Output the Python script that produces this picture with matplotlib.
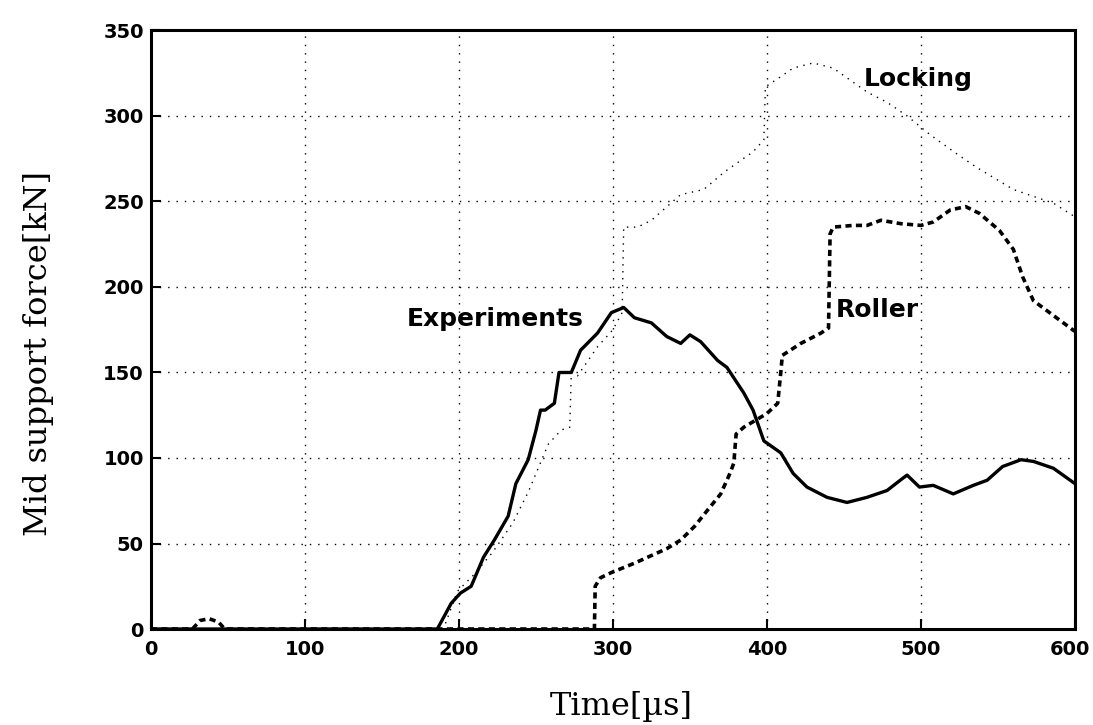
import matplotlib.pyplot as plt
import matplotlib.transforms as mtransforms
import numpy as np

# Experiments (solid)
exp_t = [0, 186, 195, 201, 208, 216, 223, 232, 237, 245, 250, 253, 256, 262, 265, 273, 279,
         290, 299, 307, 314, 325, 335, 344, 350, 357, 368, 374, 385, 391, 398, 409, 417,
         426, 439, 452, 465, 478, 488, 491, 499, 508, 521, 534, 543, 553, 565, 573, 586, 600]
exp_f = [0, 0, 15, 21, 25, 42, 52, 66, 85, 99, 116, 128, 128, 132, 150, 150, 163,
         173, 185, 188, 182, 179, 171, 167, 172, 168, 157, 153, 138, 128, 110, 103, 91,
         83, 77, 74, 77, 81, 88, 90, 83, 84, 79, 84, 87, 95, 99, 98, 94, 85]

# Roller (dashed)
rol_t = [0, 27, 32, 38, 44, 48, 288, 288.5, 292, 299, 314, 335, 344, 353, 361, 370, 376,
         378.5, 380, 385, 400, 407, 409, 410, 422, 435, 440, 441, 443, 456, 465, 474,
         487, 500, 508, 519, 529, 538, 551, 560, 566, 573, 582, 600]
rol_f = [0, 0, 5, 6, 4, 0, 0, 25, 30, 33, 38.5, 47, 52, 60, 69, 79, 91,
         97, 114, 118, 126, 132, 150, 160, 167, 173, 176, 231, 235, 236, 236, 239,
         237, 236, 238, 245, 247, 243, 233, 222, 206, 192, 186, 174]

# Locking (dotted)
lock_t = [0, 190, 199, 210, 222, 235, 245, 258, 264, 268, 272, 273, 277, 290, 300, 306, 307,
          316, 325, 344, 359, 372, 383, 391, 398, 399, 409, 417, 430, 443, 454, 465,
          478, 491, 506, 523, 536, 560, 573, 586, 600]
lock_f = [0, 0, 22, 32, 45, 62, 80, 108, 114, 117, 118, 150, 148, 165, 175, 185, 235,
          235, 239, 254, 257, 267, 274, 279, 286, 317, 323, 328, 331, 328, 321, 314,
          308, 300, 289, 278, 270, 257, 253, 249, 241]

x_ticks = [0, 100, 200, 300, 400, 500, 600]
y_ticks = [0, 50, 100, 150, 200, 250, 300, 350]

fig = plt.figure(figsize=(10.93, 7.25), dpi=100)
ax = fig.add_axes([0.138, 0.1324, 0.8455, 0.8256])

ax.plot(lock_t, lock_f, color='black', lw=1.0, linestyle=(0, (1, 4)))
ax.plot(rol_t, rol_f, color='black', lw=2.6, linestyle=(0, (1.7, 1.2)))
ax.plot(exp_t, exp_f, color='black', lw=2.4, linestyle='-')

ax.set_xlim(0, 600)
ax.set_ylim(0, 350)
ax.set_xticks(x_ticks)
ax.set_yticks(y_ticks)
ax.grid(True, color='black', linestyle=(0, (1, 5)), linewidth=1.0)
ax.tick_params(direction='in', length=7, width=1.5, labelsize=14)
ax.tick_params(axis='x', pad=8)
ax.tick_params(axis='y', pad=5)
for lab in ax.get_xticklabels() + ax.get_yticklabels():
    lab.set_fontweight('bold')
    lab.set_family('DejaVu Sans')
# keep the last x label inside the figure
last = ax.get_xticklabels()[-1]
last.set_transform(last.get_transform() + mtransforms.ScaledTranslation(-5 / 100, 0, fig.dpi_scale_trans))
for sp in ax.spines.values():
    sp.set_linewidth(2.2)

ax.set_xlabel('Time[\u00b5s]', family='DejaVu Serif', fontsize=23, va='center')
ax.xaxis.set_label_coords(0.509, -0.13)
ax.set_ylabel('Mid support force[kN]', family='DejaVu Serif', fontsize=23, va='center')
ax.yaxis.set_label_coords(-0.122, 0.461)

ax.text(166, 177, 'Experiments', family='DejaVu Sans', fontsize=18, fontweight='bold')
ax.text(463, 317.5, 'Locking', family='DejaVu Sans', fontsize=18, fontweight='bold')
ax.text(444.5, 182.5, 'Roller', family='DejaVu Sans', fontsize=18, fontweight='bold')

fig.savefig('out.png', dpi=100)
